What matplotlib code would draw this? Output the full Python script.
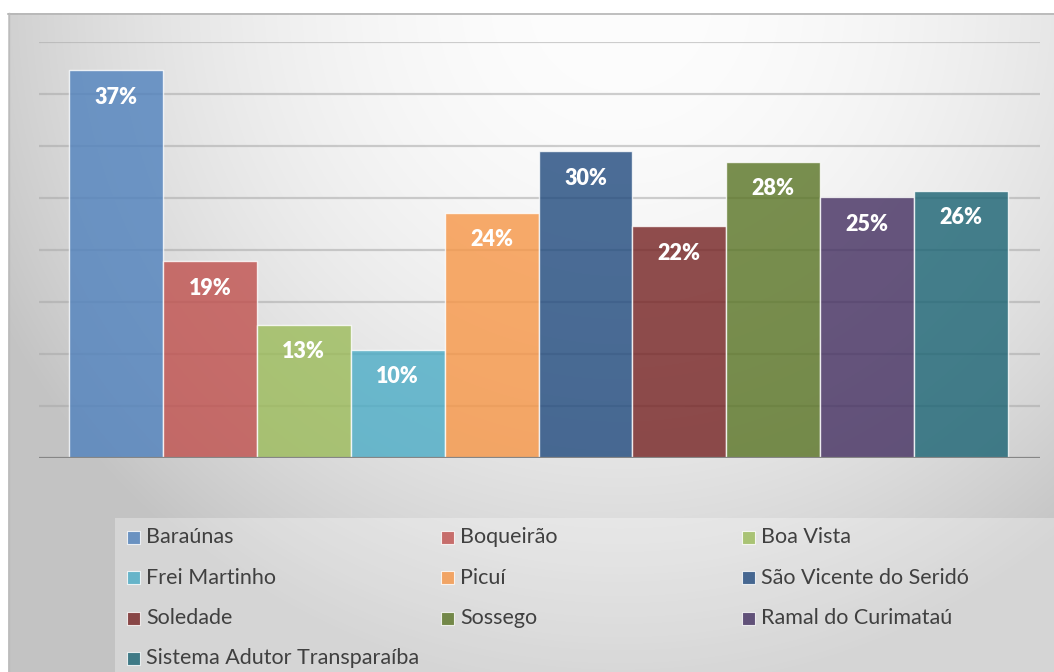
import numpy as np
import matplotlib
matplotlib.use('Agg')
import matplotlib.pyplot as plt
from matplotlib.patches import Rectangle

# data
cidades = ['Baraúnas', 'Boqueirão', 'Boa Vista', 'Frei Martinho', 'Picuí',
           'São Vicente do Seridó', 'Soledade', 'Sossego', 'Ramal do Curimataú',
           'Sistema Adutor Transparaíba']
valores = [37.3, 18.9, 12.8, 10.4, 23.6, 29.5, 22.3, 28.5, 25.1, 25.7]
rotulos = ['37%', '19%', '13%', '10%', '24%', '30%', '22%', '28%', '25%', '26%']
cores = ['#4f81bd', '#c0504d', '#9bbb59', '#4bacc6', '#f79646',
         '#1f497d', '#752222', '#597424', '#432e60', '#1a6373']

W, H = 1054, 672
fig = plt.figure(figsize=(W / 100, H / 100), dpi=100)
fig.patch.set_facecolor('white')

def fx(x):
    return x / W

def fy(y):
    return 1 - y / H

# background gradient of the chart area
bg = fig.add_axes([fx(8), 0, 1 - fx(8), fy(13)])
xx, yy = np.meshgrid(np.arange(8, W), np.arange(13, H))
d = np.sqrt((xx - 620.0) ** 2 + (yy - 0.0) ** 2)
g = np.clip(253 - 58 * (d / 700.) ** 2, 195, 253) / 255.
bg.imshow(np.dstack([g, g, g]), aspect='auto', extent=[0, 1, 0, 1], interpolation='bilinear')
bg.set_xlim(0, 1)
bg.set_ylim(0, 1)
bg.axis('off')
fig.add_artist(plt.Line2D([fx(8), 1], [fy(13.5), fy(13.5)], color='#b4b4b4', lw=1.2))
fig.add_artist(plt.Line2D([fx(8.5), fx(8.5)], [0, fy(13)], color='#bcbcbc', lw=1.0))

# plot area
ax = fig.add_axes([fx(39), fy(458), fx(1040) - fx(39), fy(42) - fy(458)])
ax.patch.set_alpha(0)
x = np.arange(len(valores))
ax.bar(x, valores, width=1.0, color=cores, alpha=0.8,
       edgecolor=(1, 1, 1, 0.45), linewidth=1.0, zorder=3)
ax.set_ylim(0, 40)
ax.set_xlim(-0.5 - 30 / 93.9, 9.5 + 32 / 93.9)
for yv in range(5, 41, 5):
    ax.axhline(yv, color='#a8a8a8', alpha=0.55, lw=1.6, zorder=1)
ax.axhline(0, color='#868686', lw=1.6, zorder=4)
for s in ax.spines.values():
    s.set_visible(False)
ax.set_xticks([])
ax.set_yticks([])

for i, (v, r) in enumerate(zip(valores, rotulos)):
    ax.annotate(r, (i, v), xytext=(0, -19.5), textcoords='offset points',
                ha='center', va='center', color='white', fontsize=15.5,
                fontweight='heavy', family='Lato', zorder=5)

# legend area
fig.add_artist(Rectangle((fx(115), 0), 1 - fx(115), fy(518), transform=fig.transFigure,
                         facecolor='white', alpha=0.3, edgecolor='none'))
col_x = [127, 441, 742]
for i, nome in enumerate(cidades):
    cx = col_x[i % 3]
    cy = 537 + (i // 3) * 40.5
    fig.add_artist(Rectangle((fx(cx), fy(cy + 6.5)), fx(13), 13 / H, transform=fig.transFigure,
                             facecolor=cores[i], alpha=0.8, edgecolor=(1, 1, 1, 0.6), lw=0.8))
    fig.text(fx(cx + 19), fy(cy), nome, ha='left', va='center', fontsize=15.5,
             family='Lato', color='#404040')

fig.savefig('out.png', dpi=100)
